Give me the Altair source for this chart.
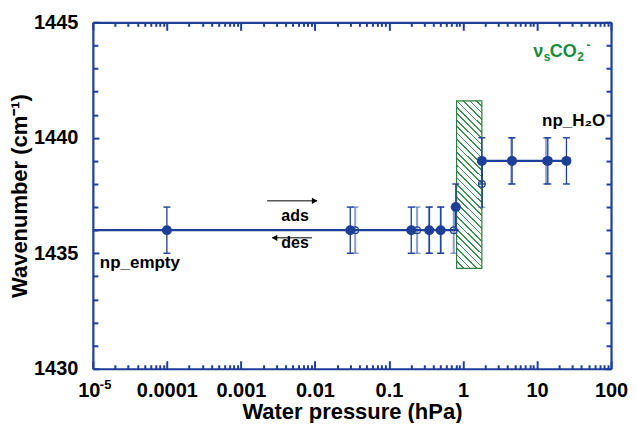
import altair as alt
import pandas as pd

# ---------------- data ----------------
ads_x = [0.0001, 0.03, 0.2, 0.35, 0.5, 0.8, 1.8, 4.6, 14, 25]
ads_y = [1436, 1436, 1436, 1436, 1436, 1437, 1439, 1439, 1439, 1439]
des_x = [0.035, 0.24, 0.35, 0.5, 0.75, 1.8, 4.5, 13.3]
des_y = [1436, 1436, 1436, 1436, 1436, 1438, 1439, 1439]
err = 1.0

line_x = [1e-5, 0.8, 0.8, 1.8, 1.8, 25]
line_y = [1436, 1436, 1437, 1437, 1439, 1439]

box_x = [0.82, 1.8]
box_y = [1434.35, 1441.6]

x_ticks = [1e-5, 1e-4, 1e-3, 1e-2, 0.1, 1, 10, 100]
x_tick_labels = ["10", "0.0001", "0.001", "0.01", "0.1", "1", "10", "100"]
x_first_sup = "-5"
x_minor = [m * 10.0 ** k for k in range(-5, 2) for m in range(2, 10)]
y_ticks = [1430, 1435, 1440, 1445]
y_minor = [v for v in range(1430, 1446) if v % 5 != 0]

anno_text = ["np_empty", "np_H₂O"]
anno_x = [1.24e-5, 11.7]
anno_y = [1434.36, 1440.5]

arrow_text = ["ads", "des"]
arrow_text_x = [0.0054, 0.0054]
arrow_text_y = [1436.40, 1435.23]
arrow_tail_x = [0.00226, 0.00915]
arrow_head_x = [0.0107, 0.00265]
arrow_y = [1437.27, 1435.67]
arrow_shape = ["triangle-right", "triangle-left"]
arrow_tip_x = [0.0099, 0.00285]

species_x = 8.9
species_y = 1443.49

# ---------------- style ----------------
BLUE = "#1d3f98"
GREEN = "#1a8c3c"
FONT = "Liberation Sans"

ads_df = pd.DataFrame({"x": ads_x, "y": ads_y})
ads_df["lo"] = ads_df["y"] - err
ads_df["hi"] = ads_df["y"] + err
des_df = pd.DataFrame({"x": des_x, "y": des_y})
des_df["lo"] = des_df["y"] - err
des_df["hi"] = des_df["y"] + err
line_df = pd.DataFrame({"x": line_x, "y": line_y, "i": range(len(line_x))})
box_df = pd.DataFrame({"x": [box_x[0]], "x2": [box_x[1]], "y": [box_y[0]], "y2": [box_y[1]]})
anno_df = pd.DataFrame({"t": anno_text, "x": anno_x, "y": anno_y})
arr_df = pd.DataFrame({"t": arrow_text, "tx": arrow_text_x, "ty": arrow_text_y,
                       "x": arrow_tail_x, "x2": arrow_head_x, "y": arrow_y,
                       "shape": arrow_shape, "tip": arrow_tip_x})
sp_df = pd.DataFrame({"x": [species_x], "y": [species_y]})
sup_df = pd.DataFrame({"x": [x_ticks[0]], "y": [y_ticks[0]]})

xs = alt.Scale(type="log", domain=[1e-5, 100], nice=False)
ys = alt.Scale(domain=[1430, 1445], nice=False, zero=False)

# hatch pattern as a striped linear gradient (in the box's bounding-box space)
bw, bh = 25.0, 167.0
s = (bw + bh) / (bw * bw + bh * bh)
n_str = 30
frac = 0.26
stops = []
for i in range(n_str):
    t0 = i / n_str
    t1 = (i + frac) / n_str
    stops += [alt.GradientStop(offset=t0, color="white"),
              alt.GradientStop(offset=t0, color="#3d8f52"),
              alt.GradientStop(offset=t1, color="#3d8f52"),
              alt.GradientStop(offset=t1, color="white")]
hatch = alt.LinearGradient(gradient="linear", stops=stops,
                           x1=0, y1=1, x2=s * bw, y2=1 - s * bh)

NOAX = dict(axis=None)


def X(field="x", **kw):
    return alt.X(f"{field}:Q", scale=xs, **kw)


def Y(field="y", **kw):
    return alt.Y(f"{field}:Q", scale=ys, **kw)


def tick_axis(orient, values, size):
    return alt.Axis(orient=orient, values=values, tickSize=size, offset=-size,
                    labels=False, domain=False, grid=False, title=None,
                    ticks=True, tickColor=BLUE, tickWidth=2)


def domain_axis(orient):
    return alt.Axis(orient=orient, values=[], labels=False, ticks=False, grid=False,
                    title=None, domain=True, domainColor=BLUE, domainWidth=2.2)


label_expr = "[" + ",".join(f"'{l}'" for l in x_tick_labels) + "][indexof([" + \
    ",".join(repr(v) for v in x_ticks) + "], datum.value)]"

x_label_axis = alt.Axis(orient="bottom", values=x_ticks, labelExpr=label_expr,
                        ticks=False, tickSize=0, domain=True, domainColor=BLUE,
                        domainWidth=2.2, grid=False,
                        labelPadding=12, labelFlush=False, labelOverlap=False,
                        labelOffset={"condition": {"test": "datum.value < 0.00002", "value": -4},
                                     "value": 0},
                        labelFontSize=20, labelFontWeight="bold", labelColor="black",
                        title="Water pressure (hPa)", titleFontSize=22,
                        titleFontWeight="bold", titleColor="black", titlePadding=1)
y_label_axis = alt.Axis(orient="left", values=y_ticks, format="d",
                        ticks=False, tickSize=0, domain=True, domainColor=BLUE,
                        domainWidth=2.2, grid=False,
                        labelPadding=15, labelFontSize=20, labelFontWeight="bold",
                        labelColor="black", title="Wavenumber (cm⁻¹)",
                        titleFontSize=22, titleFontWeight="bold", titleColor="black",
                        titlePadding=2)

axis_specs = [
    (x_label_axis, y_label_axis),
    (tick_axis("bottom", x_ticks, 8), tick_axis("left", y_ticks, 6)),
    (tick_axis("bottom", x_minor, 4), tick_axis("left", y_minor, 5)),
    (tick_axis("top", x_ticks, 8), tick_axis("right", y_ticks, 6)),
    (tick_axis("top", x_minor, 4), tick_axis("right", y_minor, 5)),
    (domain_axis("top"), domain_axis("right")),
]

axis_layers = [
    alt.Chart(line_df).mark_point(opacity=0).encode(x=X(axis=ax), y=Y(axis=ay))
    for ax, ay in axis_specs
]

line = alt.Chart(line_df).mark_line(color=BLUE, strokeWidth=2.2).encode(
    x=X(**NOAX), y=Y(**NOAX), order="i:Q")

box = alt.Chart(box_df).mark_rect(fill=hatch, stroke="#2f7d3c", strokeWidth=1.2).encode(
    x=X(**NOAX), x2="x2:Q", y=Y(**NOAX), y2="y2:Q")


def errbars(df, color, opacity, width):
    r = alt.Chart(df).mark_rule(color=color, opacity=opacity, strokeWidth=width).encode(
        x=X(**NOAX), y=Y("lo", **NOAX), y2="hi:Q")
    c1 = alt.Chart(df).mark_tick(orient="horizontal", size=7, thickness=1.4,
                                 color=color, opacity=opacity).encode(
        x=X(**NOAX), y=Y("lo", **NOAX))
    c2 = alt.Chart(df).mark_tick(orient="horizontal", size=7, thickness=1.4,
                                 color=color, opacity=opacity).encode(
        x=X(**NOAX), y=Y("hi", **NOAX))
    return [r, c1, c2]


des_pts = alt.Chart(des_df).mark_point(shape="circle", filled=False, color=BLUE,
                                       size=45, strokeWidth=1.2, opacity=1).encode(
    x=X(**NOAX), y=Y(**NOAX))
ads_pts = alt.Chart(ads_df).mark_circle(color=BLUE, size=100, opacity=1).encode(
    x=X(**NOAX), y=Y(**NOAX))

anno = alt.Chart(anno_df).mark_text(align="left", baseline="alphabetic", font=FONT,
                                    fontSize=17, fontWeight="bold", color="black").encode(
    x=X(**NOAX), y=Y(**NOAX), text="t:N")

arr_text = alt.Chart(arr_df).mark_text(align="center", baseline="alphabetic", font=FONT,
                                       fontSize=16, fontWeight="bold", color="black").encode(
    x=X("tx", **NOAX), y=Y("ty", **NOAX), text="t:N")
arr_line = alt.Chart(arr_df).mark_rule(color="black", strokeWidth=1).encode(
    x=X(**NOAX), x2="x2:Q", y=Y(**NOAX))
arr_head = alt.Chart(arr_df).mark_point(filled=True, color="black", size=40, opacity=1).encode(
    x=X("tip", **NOAX), y=Y(**NOAX), shape=alt.Shape("shape:N", scale=None))

species_parts = [("ν", 18, 0, 0), ("s", 12, 10.5, 4), ("CO", 18, 16.5, 0),
                 ("2", 12, 44, 4), ("-", 13, 53, -8)]
species = [
    alt.Chart(sp_df).mark_text(text=t, fontSize=fs, dx=dx, dy=dy, align="left",
                               baseline="alphabetic", font=FONT, fontWeight="bold",
                               color=GREEN).encode(x=X(**NOAX), y=Y(**NOAX))
    for t, fs, dx, dy in species_parts
]

sup = alt.Chart(sup_df).mark_text(text=x_first_sup, fontSize=13, dx=7, dy=20,
                                  align="left", baseline="alphabetic", font=FONT,
                                  fontWeight="bold", color="black").encode(
    x=X(**NOAX), y=Y(**NOAX))

layers = axis_layers + [line, box] + errbars(des_df, BLUE, 0.5, 2.0) + \
    errbars(ads_df, BLUE, 1.0, 1.3) + [des_pts, ads_pts, anno, arr_text, arr_line,
                                        arr_head, sup] + species

chart = alt.layer(*layers).resolve_axis(x="independent", y="independent").properties(
    width=519, height=347,
    padding={"left": 0, "top": 4, "right": 0, "bottom": 0},
).configure_view(strokeWidth=0).configure_axis(
    labelFont=FONT, titleFont=FONT
).configure(background="white")

chart.save("out.html", embed_options={"renderer": "svg", "actions": False})
